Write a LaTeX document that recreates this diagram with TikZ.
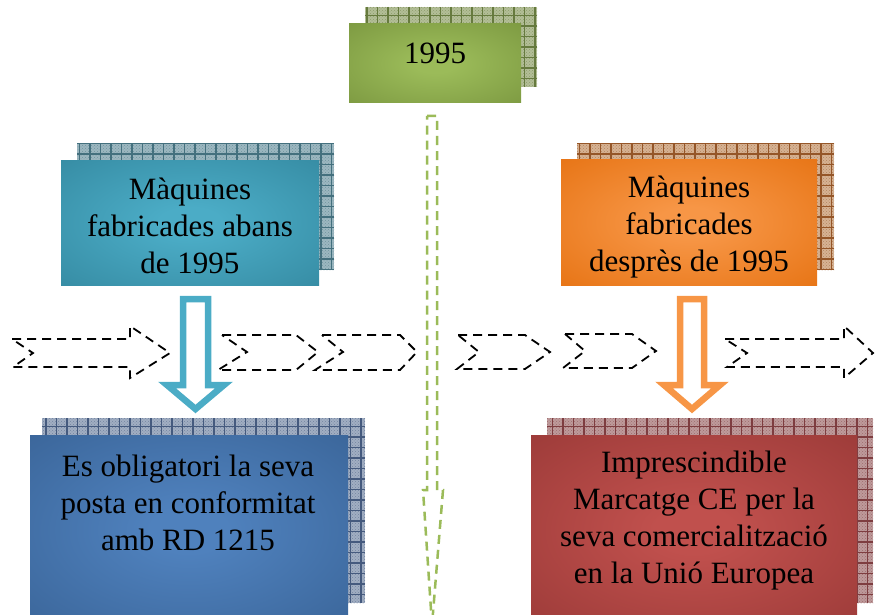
\documentclass[tikz,border=0pt]{standalone}
\usepackage{fontspec}
\setmainfont{Liberation Serif}
\usetikzlibrary{patterns, positioning}

\definecolor{oliveout}{HTML}{76923C}\definecolor{olivein}{HTML}{9BBB59}
\definecolor{tealout}{HTML}{31849B}\definecolor{tealin}{HTML}{4BACC6}
\definecolor{orngout}{HTML}{E36C09}\definecolor{orngin}{HTML}{F79646}
\definecolor{blueout}{HTML}{365F91}\definecolor{bluein}{HTML}{4F81BD}
\definecolor{redout}{HTML}{943634}\definecolor{redin}{HTML}{C0504D}
\definecolor{oliveshd}{HTML}{B3BE97}\definecolor{olivegrid}{HTML}{667A3E}
\definecolor{tealshd}{HTML}{9CB7C0}\definecolor{tealgrid}{HTML}{44707E}
\definecolor{orngshd}{HTML}{D6B293}\definecolor{ornggrid}{HTML}{955628}
\definecolor{blueshd}{HTML}{A1AEC2}\definecolor{bluegrid}{HTML}{455A7E}
\definecolor{redshd}{HTML}{BE9A9B}\definecolor{redgrid}{HTML}{7E3D40}
\definecolor{glowin}{HTML}{FFFFFF}\definecolor{glowout}{HTML}{000000}

\pgfdeclareradialshading[glowin,glowout]{glow}{\pgfpoint{0bp}{0bp}}{color(0bp)=(glowin); color(6bp)=(glowin); color(44bp)=(glowout); color(100bp)=(glowout)}

\tikzset{
  frontbox/.style 2 args={inner sep=0, shading=glow, /utils/exec={\colorlet{glowin}{#1}\colorlet{glowout}{#2}}},
  shadowbox/.style 2 args={inner sep=0, preaction={fill=#1}, pattern=crosshatch dots, pattern color=#2!50!#1,
    path picture={\draw[#2, line width=1.5pt, step=10.5pt] (path picture bounding box.south west) grid (path picture bounding box.north east);}},
  boxtext/.style={align=center, inner sep=0, font=\fontsize{31}{37}\selectfont},
  hollowarrow/.style={draw=#1, fill=white, line width=6.5pt, line join=miter},
  dasharrow/.style={draw=black, line width=1.8pt, dash pattern=on 9pt off 6pt},
  timeline/.style={draw=olivein, line width=2.5pt, dash pattern=on 9pt off 6pt}
}

\begin{document}
\begin{tikzpicture}[x=1pt, y=-1pt]
	\clip (0,0) rectangle (875,615);
	% year at the top
	\node[shadowbox={oliveshd}{olivegrid}, minimum width=172pt, minimum height=80pt] (yearshd) at (451,47) {};
	\node[frontbox={olivein}{oliveout}, minimum width=172pt, minimum height=79pt] (year) at (435,63.5) {};
	\node[boxtext] (yeartxt) at (435,53) {1995};
	% time line
	\draw[timeline] (427,116) -- (437,116) -- (437,490) -- (443,490) -- (432,625) -- (423,490) -- (427,490) -- cycle;
	% machines before / after
	\node[shadowbox={tealshd}{tealgrid}, minimum width=257pt, minimum height=127pt] (abansshd) at (205.5,206.5) {};
	\node[frontbox={tealin}{tealout}, minimum width=258pt, minimum height=125pt] (abans) at (190,222.5) {};
	\node[boxtext] (abanstxt) at (190,226) {Màquines\\fabricades abans\\de 1995};
	\node[shadowbox={orngshd}{ornggrid}, minimum width=257pt, minimum height=127pt] (despresshd) at (705.5,206.5) {};
	\node[frontbox={orngin}{orngout}, minimum width=256pt, minimum height=126pt] (despres) at (689,222) {};
	\node[boxtext] (desprestxt) at (689,227) {Màquines\\fabricades\\desprès de 1995};
	% dashed arrows
	\draw[dasharrow] (12,339) -- (130,339) -- (130,326) -- (170,353) -- (130,378) -- (130,367) -- (13,367) -- (33,353) -- cycle;
	\draw[dasharrow] (222,335) -- (296,335) -- (318,352) -- (296,370) -- (218,370) -- (247,352) -- cycle;
	\draw[dasharrow] (322,335) -- (400,335) -- (417,352) -- (400,370) -- (315,370) -- (343,352) -- cycle;
	\draw[dasharrow] (458,335) -- (525,335) -- (550,352) -- (525,369) -- (457,369) -- (479,352) -- cycle;
	\draw[dasharrow] (565,334) -- (632,334) -- (656,351) -- (632,368) -- (563,368) -- (585,351) -- cycle;
	\draw[dasharrow] (725,339) -- (844,339) -- (844,326) -- (873,353) -- (844,378) -- (844,367) -- (727,367) -- (747,353) -- cycle;
	% hollow arrows down
	\draw[hollowarrow=tealin] (183,299) -- (208,299) -- (208,385) -- (224,385) -- (195.5,409) -- (167,385) -- (183,385) -- cycle;
	\draw[hollowarrow=orngin] (680,299) -- (704,299) -- (704,385) -- (720,385) -- (692,409) -- (664,385) -- (680,385) -- cycle;
	% results
	\node[shadowbox={blueshd}{bluegrid}, minimum width=323pt, minimum height=185pt] (oblshd) at (203.5,510.5) {};
	\node[frontbox={bluein}{blueout}, minimum width=318pt, minimum height=190pt] (obl) at (189,530) {};
	\node[boxtext] (obltxt) at (188,503) {Es obligatori la seva\\posta en conformitat\\amb RD 1215};
	\node[shadowbox={redshd}{redgrid}, minimum width=326pt, minimum height=185pt] (imprshd) at (710,510.5) {};
	\node[frontbox={redin}{redout}, minimum width=326pt, minimum height=190pt] (impr) at (694,530) {};
	\node[boxtext] (imprtxt) at (694,521) {Imprescindible\\Marcatge CE per la\\seva comercialització\\en la Unió Europea};
\end{tikzpicture}
\end{document}
